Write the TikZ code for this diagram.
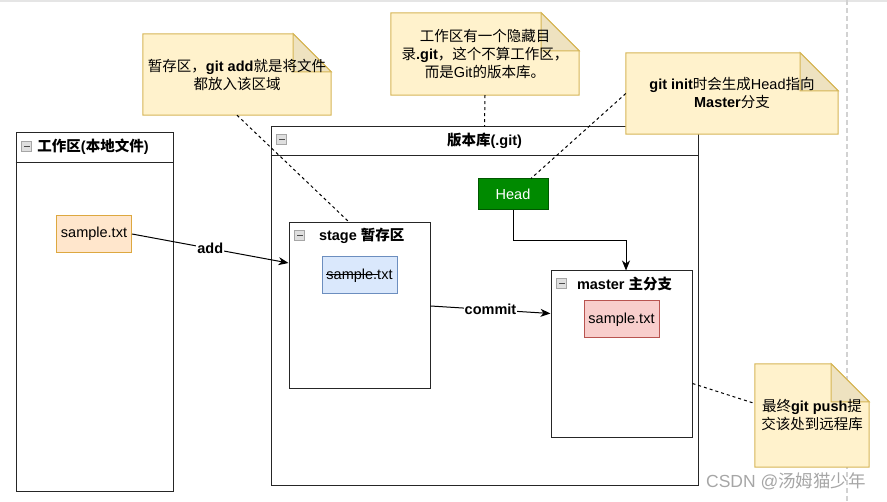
\documentclass[tikz,border=0pt]{standalone}
\usepackage{fontspec}
\setmainfont{Liberation Sans}
\newfontfamily\cjk{Noto Sans CJK SC}
\usetikzlibrary{positioning}
\usetikzlibrary{arrows.meta}
\newcommand{\zh}[1]{{\cjk #1}}
\newcommand{\basefont}{\fontsize{14.5}{18}\selectfont}
\definecolor{notefill}{HTML}{FFF2CC}
\definecolor{noteline}{HTML}{D6B656}
\definecolor{notefoldfill}{HTML}{EEE2C0}
\definecolor{wsfill}{HTML}{FFE6CC}
\definecolor{wsline}{HTML}{DDA840}
\definecolor{stagefill}{HTML}{DAE8FC}
\definecolor{stageline}{HTML}{6C8EBF}
\definecolor{masterfill}{HTML}{F8CECC}
\definecolor{masterline}{HTML}{B85450}
\definecolor{headfill}{HTML}{008A00}
\definecolor{headline}{HTML}{005700}
\tikzset{%
  lane/.style = {rectangle,draw=black!85,line width=1pt,inner sep=0pt},
  lanetitle/.style = {font=\basefont\bfseries,inner sep=0pt},
  icon/.style = {rectangle,draw=gray!70,fill=gray!25,line width=0.6pt,
        minimum size=10pt,inner sep=0pt,
        path picture={\fill[black!70] ([xshift=2pt,yshift=-0.9pt]path picture bounding box.west)
          rectangle ([xshift=-2pt,yshift=0.9pt]path picture bounding box.east);}},
  file/.style = {rectangle,draw,line width=1pt,minimum width=75pt,
        minimum height=37pt,inner sep=0pt,font=\basefont},
  flow/.style = {-{Stealth[length=10pt,width=8pt,inset=3pt]},line width=1pt},
  flowlabel/.style = {fill=white,inner sep=1pt,font=\basefont\bfseries},
  hint/.style = {dash pattern=on 3pt off 3pt,line width=1pt},
  notearea/.style = {rectangle,inner sep=0pt},
  notetext/.style = {align=center,inner sep=0pt,font=\basefont}
}
% note with a folded corner, drawn round an empty node
\newcommand{\drawnote}[1]{%
  \filldraw[fill=notefill,draw=noteline,line width=1pt]
    (#1.south west) -- (#1.north west) -- ([xshift=-38pt]#1.north east)
    -- ([yshift=-38pt]#1.north east) -- (#1.south east) -- cycle;
  \filldraw[fill=notefoldfill,draw=noteline,line width=1pt]
    ([xshift=-38pt]#1.north east) -- ([xshift=-38pt,yshift=-38pt]#1.north east)
    -- ([yshift=-38pt]#1.north east) -- cycle;}

\begin{document}
\begin{tikzpicture}[x=1pt,y=-1pt]
  \useasboundingbox (0,0) rectangle (887,502);
  \draw[gray!20,line width=2pt] (0,1) -- (887,1);
  \draw[gray!35,line width=1.5pt,dash pattern=on 5pt off 3pt] (847,0) -- (847,502);

  % work area
  \node[lane,minimum width=157pt,minimum height=359pt] (ws) at (94.5,312.5) {};
  \draw[lane] ([yshift=-30pt]ws.north west) -- ([yshift=-30pt]ws.north east);
  \node[icon] (ws-icon) at ([xshift=11pt,yshift=-14pt]ws.north west) {};
  \node[lanetitle,right=5.5pt of ws-icon] (ws-title) {\zh{工作区}(\zh{本地文件})};
  \node[file,fill=wsfill,draw=wsline] (ws-file) at (94,234) {sample.txt};

  % repository
  \node[lane,minimum width=427pt,minimum height=359pt] (repo) at (484.5,306.5) {};
  \draw[lane] ([yshift=-29pt]repo.north west) -- ([yshift=-29pt]repo.north east);
  \node[icon] (repo-icon) at ([xshift=11pt,yshift=-13pt]repo.north west) {};
  \node[lanetitle] (repo-title) at ([yshift=-14.5pt]repo.north) {\zh{版本库}(.git)};
  \node[rectangle,draw=headline,fill=headfill,text=white,line width=1pt,
        minimum width=70pt,minimum height=31pt,inner sep=0pt,font=\basefont]
        (head) at (513,194.5) {Head};

  % stage
  \node[lane,minimum width=141pt,minimum height=166pt] (stage) at (359.5,306) {};
  \node[icon] (stage-icon) at ([xshift=11pt,yshift=-13pt]stage.north west) {};
  \node[lanetitle,right=14pt of stage-icon] (stage-title) {stage \zh{暂存区}};
  \node[file,fill=stagefill,draw=stageline] (stage-file) at (359.5,275.5)
        {\rlap{\rule[0.3em]{52pt}{0.6pt}}sample.txt};

  % master
  \node[lane,minimum width=141pt,minimum height=167pt] (master) at (621.5,354.5) {};
  \node[icon] (master-icon) at ([xshift=11pt,yshift=-13pt]master.north west) {};
  \node[lanetitle,right=10pt of master-icon] (master-title) {master \zh{主分支}};
  \node[file,fill=masterfill,draw=masterline] (master-file) at (621.5,319.5) {sample.txt};

  % flows
  \draw[flow] (ws-file.east) -- node[flowlabel] (add-label) {add} ([yshift=43pt]stage.west);
  \draw[flow] (stage.east) -- node[flowlabel] (commit-label) {commit} ([yshift=41pt]master.west);
  \draw[flow] (head.south) -- ++(0,30) -| ([xshift=4.5pt]master.north);

  % notes
  \node[notearea,minimum width=188pt,minimum height=81pt] (n1) at (237,74.5) {};
  \drawnote{n1}
  \node[notetext] (n1-text) at (n1) {\zh{暂存区，}\textbf{git add}\zh{就是将文件}\\\zh{都放入该区域}};
  \node[notearea,minimum width=188pt,minimum height=82pt] (n2) at (485,54) {};
  \drawnote{n2}
  \node[notetext] (n2-text) at (n2) {\zh{工作区有一个隐藏目}\\\zh{录}\textbf{.git}\zh{，这个不算工作区，}\\\zh{而是}Git\zh{的版本库。}};
  \node[notearea,minimum width=212pt,minimum height=81pt] (n3) at (732,93.5) {};
  \drawnote{n3}
  \node[notetext] (n3-text) at (n3) {\textbf{git init}\zh{时会生成}Head\zh{指向}\\\textbf{Master}\zh{分支}};
  \node[notearea,minimum width=114pt,minimum height=103pt] (n4) at (812,415.5) {};
  \drawnote{n4}
  \node[notetext] (n4-text) at (n4) {\zh{最终}\textbf{git push}\zh{提}\\\zh{交该处到远程库}};

  \draw[hint] (n1.south) -- ([xshift=-10pt]stage.north);
  \draw[hint] (n2.south) -- (repo.north);
  \draw[hint] (n3.west) -- ([xshift=18pt]head.north);
  \draw[hint] ([yshift=-29pt]master.east) -- ([yshift=12pt]n4.west);

  \node[text=gray!70,font=\fontsize{17.5}{20}\selectfont,inner sep=0pt] (mark) at (786,481)
        {CSDN @\zh{汤姆猫少年}};
\end{tikzpicture}
\end{document}
